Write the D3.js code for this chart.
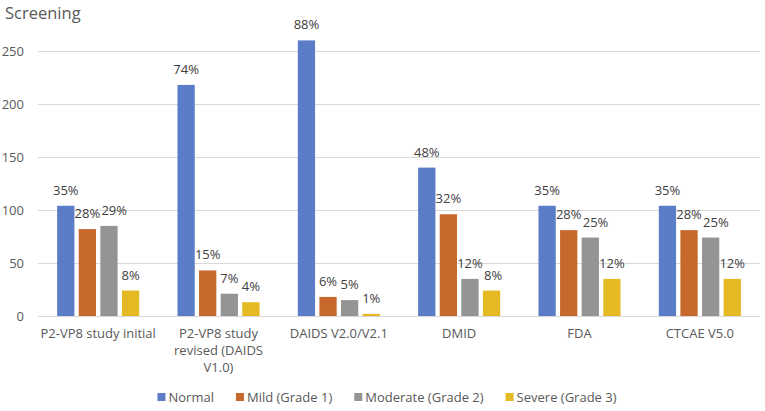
<!DOCTYPE html>
<html>
<head>
<meta charset="utf-8">
<script src="https://cdn.jsdelivr.net/npm/d3@7/dist/d3.min.js"></script>
<style>
  body { margin: 0; background: #fff; }
  svg { display: block; font-family: "Open Sans", "Noto Sans", sans-serif; }
</style>
</head>
<body>
<svg width="765" height="411"></svg>
<script>
var categories = [
    ["P2-VP8 study initial"],
    ["P2-VP8 study", "revised (DAIDS", "V1.0)"],
    ["DAIDS V2.0/V2.1"],
    ["DMID"],
    ["FDA"],
    ["CTCAE V5.0"]
];
var seriesNames = ["Normal", "Mild (Grade 1)", "Moderate (Grade 2)", "Severe (Grade 3)"];
var seriesColors = ["#5b7dc8", "#c7692d", "#949494", "#e5b923"];

// counts per category, one array per series
var normal   = [104, 218, 260, 140, 104, 104];
var mild     = [82, 43, 18, 96, 81, 81];
var moderate = [85, 21, 15, 35, 74, 74];
var severe   = [24, 13, 2, 24, 35, 35];

var normalPct   = ["35%", "74%", "88%", "48%", "35%", "35%"];
var mildPct     = ["28%", "15%", "6%", "32%", "28%", "28%"];
var moderatePct = ["29%", "7%", "5%", "12%", "25%", "25%"];
var severePct   = ["8%", "4%", "1%", "8%", "12%", "12%"];

var yTicks = [0, 50, 100, 150, 200, 250];

var values = [normal, mild, moderate, severe];
var pcts = [normalPct, mildPct, moderatePct, severePct];

var svg = d3.select("svg");
var plotLeft = 38, plotRight = 760, plotBottom = 316, plotTop = 51;

var x0 = d3.scaleBand()
    .domain(d3.range(categories.length))
    .range([plotLeft, plotRight])
    .paddingInner(0.318)
    .paddingOuter(0.159);

var x1 = d3.scaleBand()
    .domain(d3.range(seriesNames.length))
    .range([0, x0.bandwidth()])
    .paddingInner(0.2);

var y = d3.scaleLinear().domain([0, 250]).range([plotBottom, plotTop]);

// title
svg.append("text")
    .attr("x", 5)
    .attr("y", 19)
    .attr("font-size", 16.5)
    .attr("fill", "#595959")
    .text("Screening");

// gridlines
svg.append("g").selectAll("line")
    .data(yTicks)
    .enter().append("line")
    .attr("x1", plotLeft)
    .attr("x2", plotRight)
    .attr("y1", function (d) { return Math.round(y(d)) + 0.5; })
    .attr("y2", function (d) { return Math.round(y(d)) + 0.5; })
    .attr("stroke", "#d9d9d9")
    .attr("stroke-width", 1);

// y tick labels
svg.append("g").selectAll("text")
    .data(yTicks)
    .enter().append("text")
    .attr("x", 24)
    .attr("y", function (d) { return y(d) + 4.5; })
    .attr("text-anchor", "end")
    .attr("font-size", 13)
    .attr("fill", "#595959")
    .text(function (d) { return d; });

// bars
var groups = svg.append("g").selectAll("g")
    .data(categories)
    .enter().append("g")
    .attr("transform", function (d, i) { return "translate(" + x0(i) + ",0)"; });

function rows(d, i) {
    return values.map(function (s, k) { return { k: k, v: s[i], p: pcts[k][i] }; });
}

groups.selectAll("rect")
    .data(rows)
    .enter().append("rect")
    .attr("x", function (d) { return x1(d.k); })
    .attr("width", x1.bandwidth())
    .attr("y", function (d) { return y(d.v); })
    .attr("height", function (d) { return y(0) - y(d.v); })
    .attr("fill", function (d) { return seriesColors[d.k]; });

groups.selectAll("text.lbl")
    .data(rows)
    .enter().append("text")
    .attr("class", "lbl")
    .attr("x", function (d) { return x1(d.k) + x1.bandwidth() / 2; })
    .attr("y", function (d) { return y(d.v) - 11; })
    .attr("text-anchor", "middle")
    .attr("font-size", 13)
    .attr("fill", "#404040")
    .text(function (d) { return d.p; });

// nudge a label right when it collides with the one before it (like Excel does)
groups.each(function () {
    var prev = null;
    d3.select(this).selectAll("text.lbl").each(function () {
        var b = this.getBBox();
        if (prev && Math.abs(b.y - prev.y) < b.height && b.x < prev.x + prev.width + 1) {
            var shift = prev.x + prev.width + 1 - b.x;
            d3.select(this).attr("x", +d3.select(this).attr("x") + shift);
            b = this.getBBox();
        }
        prev = b;
    });
});

// category labels
var cat = svg.append("g").selectAll("text")
    .data(categories)
    .enter().append("text")
    .attr("x", function (d, i) { return x0(i) + x0.bandwidth() / 2; })
    .attr("y", 338)
    .attr("text-anchor", "middle")
    .attr("font-size", 13)
    .attr("fill", "#595959");

cat.selectAll("tspan")
    .data(function (d) { return d; })
    .enter().append("tspan")
    .attr("x", function () { return d3.select(this.parentNode).attr("x"); })
    .attr("dy", function (d, i) { return i === 0 ? 0 : 17; })
    .text(function (d) { return d; });

// legend
var legend = svg.append("g");
var lx = 0;
seriesNames.forEach(function (name, i) {
    var item = legend.append("g").attr("transform", "translate(" + lx + ",0)");
    item.append("rect")
        .attr("x", 0).attr("y", -4)
        .attr("width", 8).attr("height", 8)
        .attr("fill", seriesColors[i]);
    var t = item.append("text")
        .attr("x", 11).attr("y", 4.5)
        .attr("font-size", 13)
        .attr("fill", "#595959")
        .text(name);
    lx += 11 + t.node().getComputedTextLength() + 22;
});
var legendWidth = lx - 22;
legend.attr("transform", "translate(" + (387 - legendWidth / 2) + ",397)");
</script>
</body>
</html>
